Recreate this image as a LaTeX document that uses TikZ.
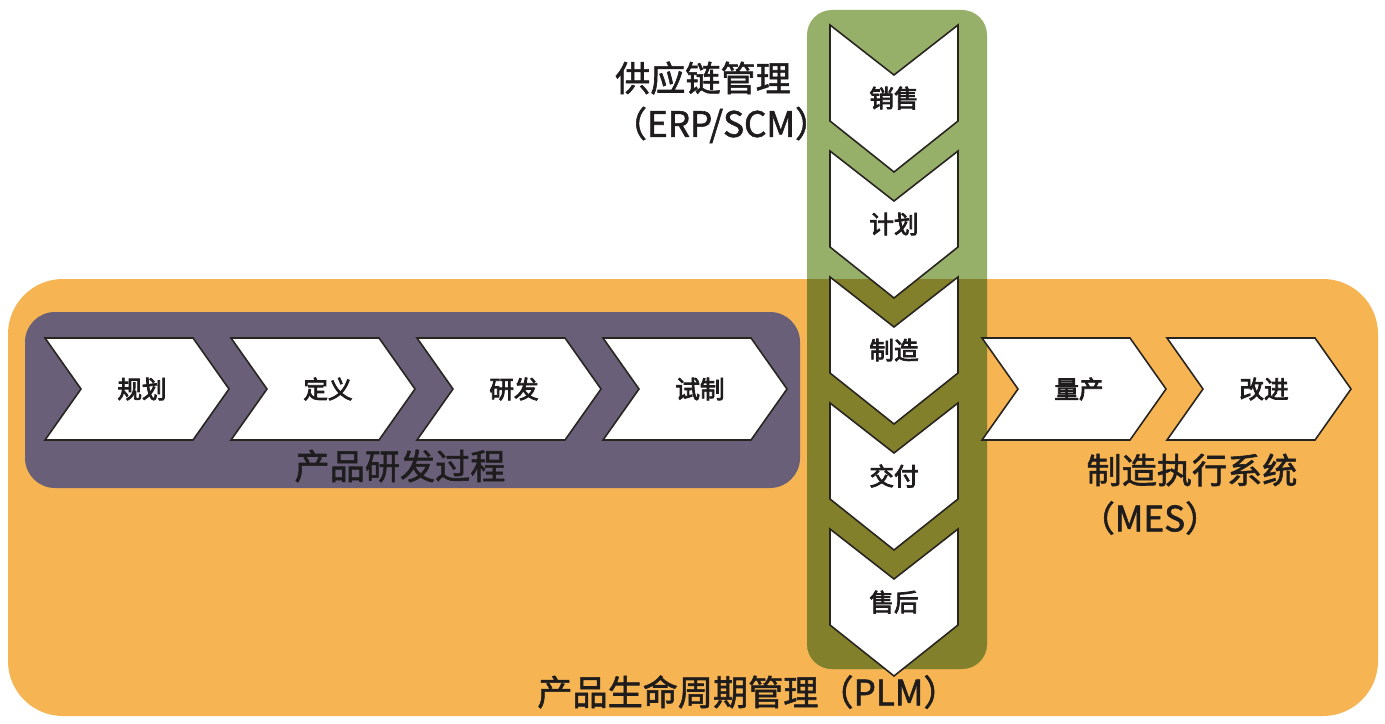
\documentclass[tikz,border=0pt]{standalone}
\usepackage{fontspec}
\setmainfont{Noto Sans CJK SC}
\newfontfamily\stepfont{Noto Sans CJK SC}[FakeBold=3.2]
\newfontfamily\titlefont{Noto Sans CJK SC}[FakeBold=1.6]
\usepackage{tikz}
\usetikzlibrary{positioning}

\definecolor{plmorange}{RGB}{246,180,82}
\definecolor{rdpurple}{RGB}{105,95,120}
\definecolor{scmgreen}{RGB}{150,176,106}
\definecolor{scmolive}{RGB}{130,128,42}
\definecolor{chevline}{RGB}{40,36,32}
\definecolor{inkdark}{RGB}{30,28,28}

\begin{document}
\begin{tikzpicture}
		[
			x=0.02cm, y=-0.02cm,
			chev/.style={draw=chevline, fill=white, line width=0.9pt, line join=miter},
			chevtext/.style={font=\stepfont\fontsize{14}{16}\selectfont, text=inkdark},
			title/.style={font=\titlefont\fontsize{20}{24}\selectfont, text=inkdark, inner sep=0pt}
		]

		\useasboundingbox (0,0) rectangle (1385,723);
		\fill[white] (0,0) rectangle (1385,723);

		% frames
		\fill[plmorange, rounded corners=1.1cm] (8,279) rectangle (1378,716);
		\fill[rdpurple, rounded corners=0.6cm] (25,312) rectangle (800,488);
		\fill[scmgreen, rounded corners=0.5cm] (807,10) rectangle (987,669);
		\begin{scope}
			\clip[rounded corners=1.1cm] (8,279) rectangle (1378,716);
			\fill[scmolive, rounded corners=0.5cm] (807,10) rectangle (987,669);
		\end{scope}

		% horizontal steps
		\foreach \lx/\lbl [count=\i] in
		{45/规划, 231/定义, 417/研发, 603/试制, 982/量产, 1167/改进}
		{
			\draw[chev] (\lx,338) -- (\lx+148,338) -- (\lx+184,389) -- (\lx+148,440)
				-- (\lx,440) -- (\lx+36,389) -- cycle;
			\node[chevtext] (H\i) at (\lx+97,389) {\lbl};
		}

		% vertical steps
		\foreach \ty/\lbl [count=\i] in
		{25/销售, 151/计划, 277/制造, 403/交付, 529/售后}
		{
			\draw[chev] (830,\ty) -- (894,\ty+50) -- (958,\ty) -- (958,\ty+96)
				-- (894,\ty+147) -- (830,\ty+96) -- cycle;
			\node[chevtext] (V\i) at (894,\ty+73) {\lbl};
		}

		% labels
		\node[title] (scm)     at ( 703, 78) {供应链管理};
		\node[title] (scmabbr) at ( 721,125) {（ERP/SCM）};
		\node[title] (rd)      at ( 400,466) {产品研发过程};
		\node[title] (mes)     at (1192,470) {制造执行系统};
		\node[title] (mesabbr) at (1150,518) {（MES）};
		\node[title, anchor=west] (plm) at (537,692) {产品生命周期管理（PLM）};

	\end{tikzpicture}
\end{document}
